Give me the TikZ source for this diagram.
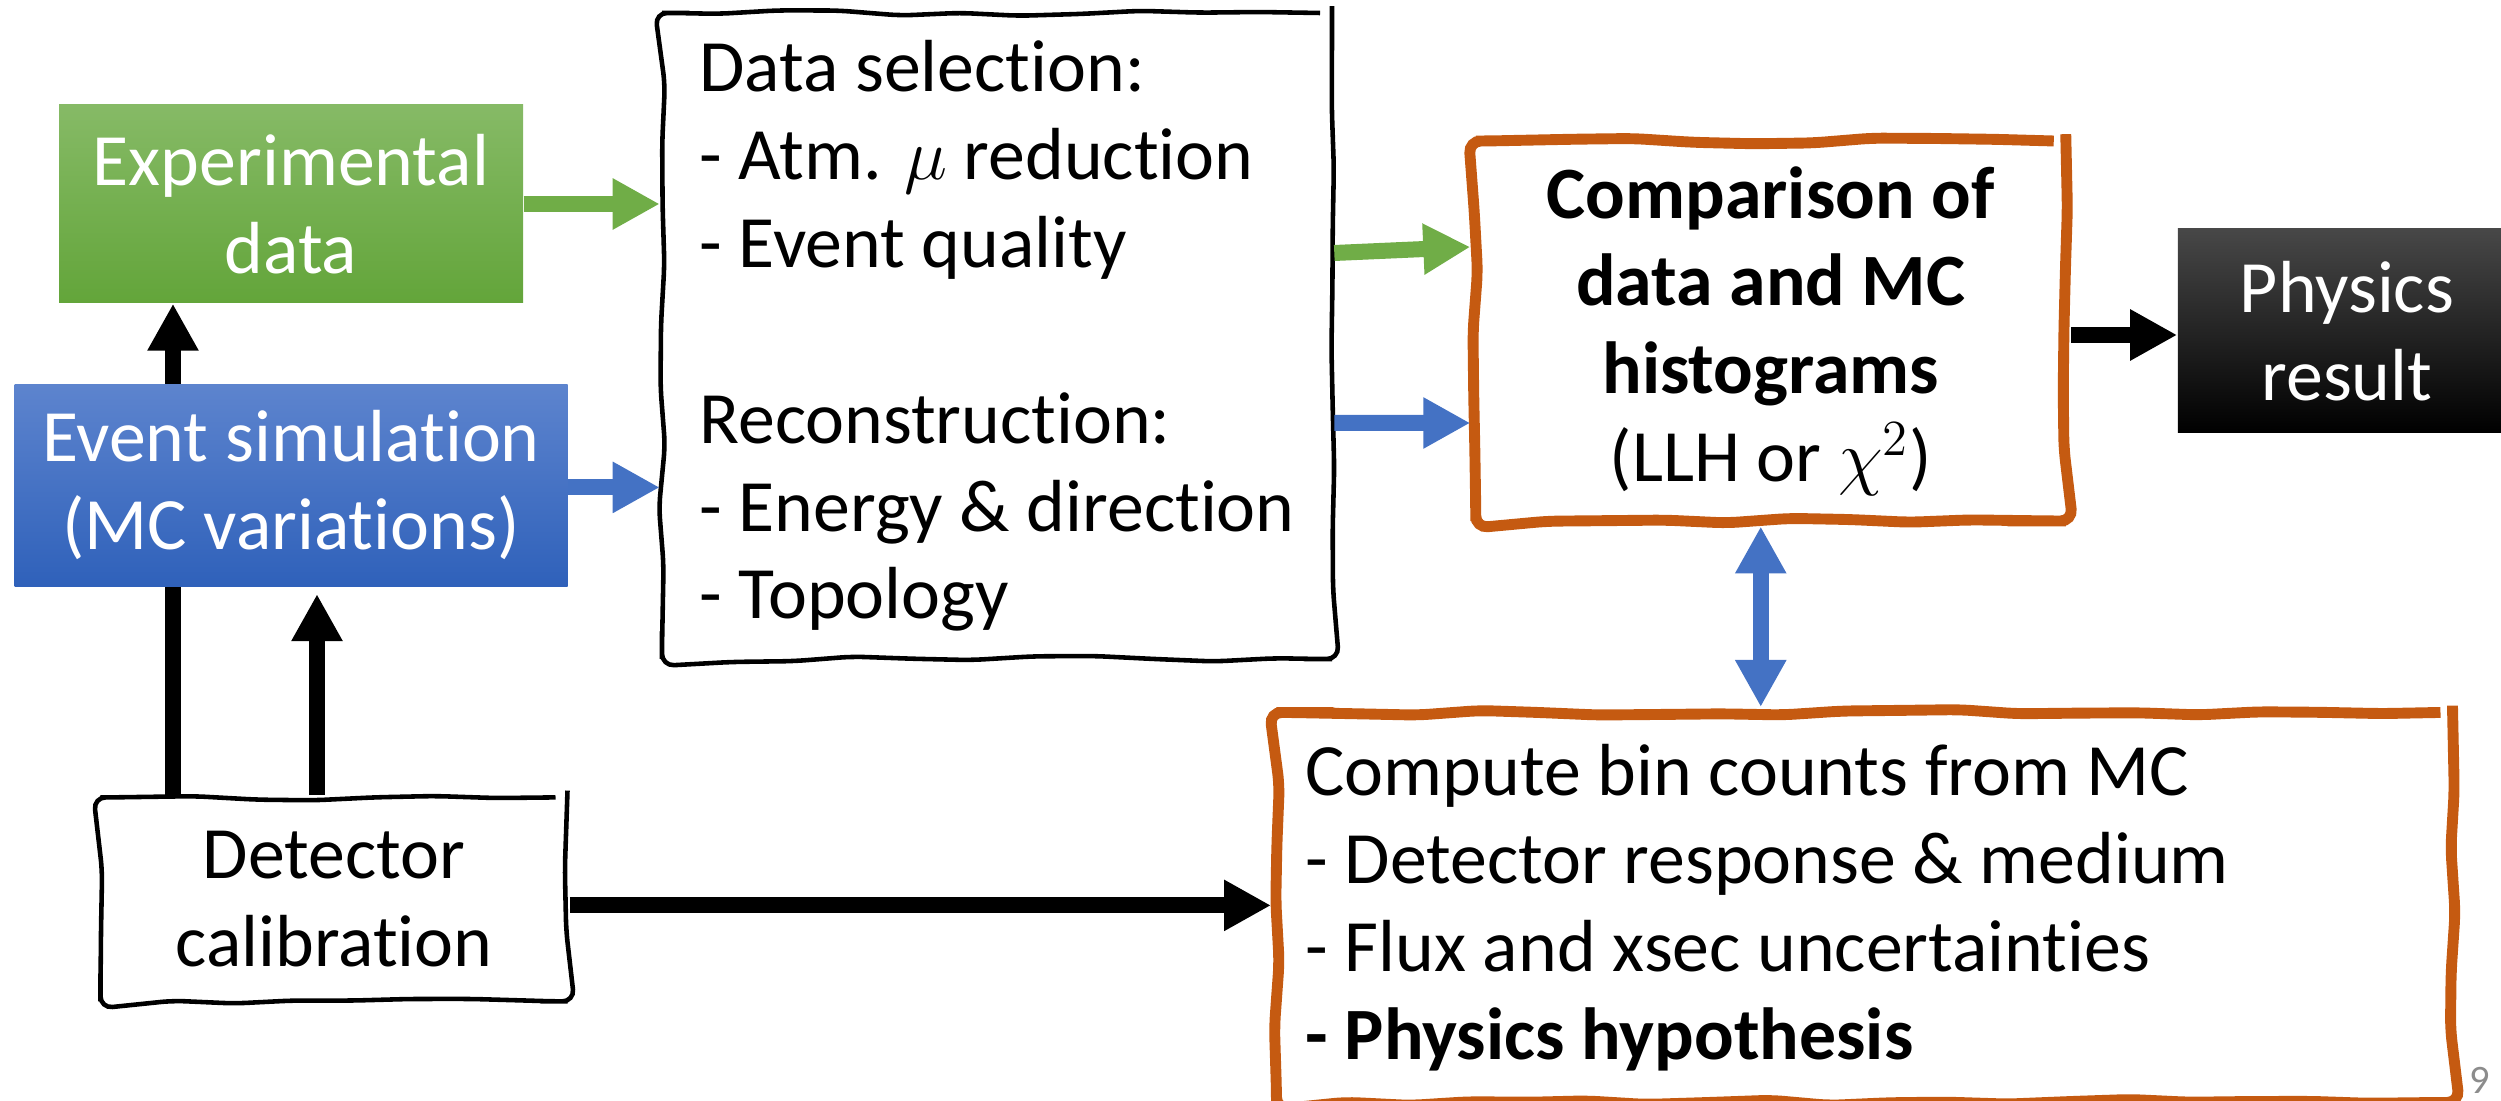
\documentclass[tikz,border=0pt]{standalone}
\usepackage{fontspec}
\setmainfont{Carlito}[Ligatures=NoCommon]
\usetikzlibrary{arrows.meta,positioning,decorations.pathmorphing,backgrounds}
\definecolor{accentgreen}{HTML}{70AD47}
\definecolor{accentblue}{HTML}{4472C4}
\definecolor{accentorange}{HTML}{C55A11}
\definecolor{greentop}{HTML}{86BA66}
\definecolor{greenbot}{HTML}{63A53A}
\definecolor{bluetop}{HTML}{5D84CE}
\definecolor{bluebot}{HTML}{2F61BA}
\definecolor{pagegrey}{HTML}{8C8C8C}

\begin{document}
\begin{tikzpicture}[
    font=\fontsize{21}{25}\selectfont,
    >={Triangle[length=0.47cm, width=0.48cm]},
    sketchbox/.style={
      draw=black,
      line width=1.3pt,
      fill=white,
      decorate,
      decoration={random steps, segment length=0.6cm, amplitude=0.03cm},
      rounded corners=0.12cm
    },
    orangebox/.style={
      sketchbox,
      draw=accentorange,
      line width=3.1pt
    },
    shadedbox/.style={
      text=white,
      align=center,
      minimum height=2.0cm
    },
    flowarrow/.style={line width=0.16cm, ->},
    greenarrow/.style={flowarrow, draw=accentgreen},
    bluearrow/.style={flowarrow, draw=accentblue},
    blackarrow/.style={flowarrow, draw=black}
  ]
    \pgfmathsetseed{7}
    \useasboundingbox (0,0) rectangle (25.01,-11.01);

    \node[shadedbox, top color=greentop, bottom color=greenbot,
      minimum width=4.64cm, minimum height=1.98cm] (expdata) at (2.91,-2.04)
      {Experimental\\data};
    \node[shadedbox, top color=bluetop, bottom color=bluebot,
      minimum width=5.53cm, minimum height=2.02cm, below=0.80cm of expdata]
      (evsim) {Event simulation\\(MC variations)};
    \node[sketchbox, align=center, minimum width=4.67cm, minimum height=2.04cm,
      below=2.08cm of evsim, xshift=0.43cm] (detector) {Detector\\calibration};

    \node[sketchbox, align=left, minimum width=6.70cm,
      minimum height=6.46cm] (datasel) at (9.97,-3.36)
      {Data selection:\\- Atm. $\mu$ reduction\\- Event quality\\[25pt]
       Reconstruction:\\- Energy \& direction\\- Topology};

    \node[orangebox, align=center, minimum width=5.9cm, minimum height=3.80cm,
      right=1.36cm of datasel, yshift=0.05cm] (compare)
      {\textbf{Comparison of}\\\textbf{data and MC}\\\textbf{histograms}\\(LLH or $\chi^2$)};
    \node[shadedbox, top color=black!72, middle color=black, bottom color=black,
      minimum width=3.38cm, minimum height=2.04cm, right=1.06cm of compare]
      (physics) {Physics\\result};

    \node[orangebox, align=flush left, text width=11.18cm, inner xsep=0.29cm,
      minimum height=3.90cm, anchor=north west] (compute) at (12.71,-7.07)
      {Compute bin counts from MC\\- Detector response \& medium\\
       - Flux and xsec uncertainties\\\textbf{- Physics hypothesis}};

    \node[text=pagegrey, font=\fontsize{11.5}{13}\selectfont] (pagenum) at (24.80,-10.80) {9};

    % calibration also feeds the data, behind the simulation box
    \begin{scope}[on background layer]
      \draw[blackarrow] ([xshift=-1.61cm]detector.north) -- ([xshift=-1.61cm]detector.north |- expdata.south);
    \end{scope}

    \draw[greenarrow] (expdata.east) -- (expdata.east -| datasel.west);
    \draw[bluearrow] ([yshift=-0.02cm]evsim.east) -- ([yshift=-0.02cm]evsim.east -| datasel.west);
    \draw[greenarrow] ([yshift=0.83cm]datasel.east) -- ([yshift=0.84cm]compare.west);
    \draw[bluearrow] ([yshift=-0.87cm]datasel.east) -- ([yshift=-0.92cm]compare.west);
    \draw[blackarrow] ([yshift=-0.04cm]compare.east) -- ([yshift=-0.04cm]compare.east -| physics.west);
    \draw[bluearrow, <->] ([xshift=-0.1cm]compare.south) -- ([xshift=-0.1cm]compare.south |- compute.north);
    \draw[blackarrow] ([yshift=-0.06cm]detector.east) -- ([yshift=-0.06cm]detector.east -| compute.west);
    \draw[blackarrow, shorten >=0.07cm] ([xshift=-0.17cm]detector.north) -- ([xshift=-0.17cm]detector.north |- evsim.south);
  \end{tikzpicture}
\end{document}
